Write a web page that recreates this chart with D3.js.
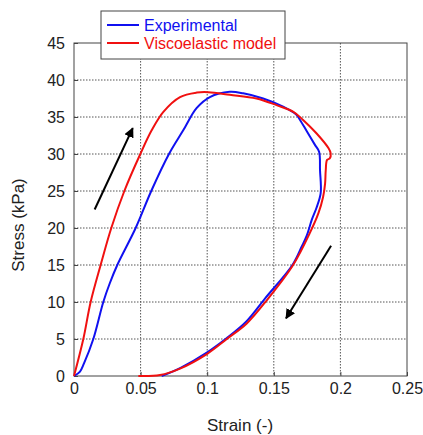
<!DOCTYPE html>
<html><head><meta charset="utf-8">
<script src="https://cdn.jsdelivr.net/npm/d3@7"></script>
<style>body{margin:0;background:#fff}svg{display:block;font-family:"Liberation Sans",Arial,sans-serif}</style>
</head><body><svg id="c" width="423" height="435"></svg>
<script>
const xTicks = [0, 0.05, 0.1, 0.15, 0.2, 0.25];
const xTickLabels = ["0", "0.05", "0.1", "0.15", "0.2", "0.25"];
const yTicks = [0, 5, 10, 15, 20, 25, 30, 35, 40, 45];
const seriesNames = ["Experimental", "Viscoelastic model"];
const experimentalStrain = [0,0.0045,0.0075,0.0145,0.022,0.0268,0.0325,0.0463,0.058,0.0713,0.082,0.092,0.102,0.117,0.127,0.142,0.157,0.167,0.1697,0.175,0.181,0.184,0.1847,0.1852,0.182,0.1785,0.1748,0.171,0.164,0.1435,0.129,0.1145,0.1,0.08,0.0658];
const experimentalStress = [0,0.6,1.7,5,10,12.5,15,20,25,30,33.2,36.2,37.7,38.4,38.2,37.5,36.4,35.3,34.6,33.0,31.2,30.3,27.8,24.7,22.7,21.1,19,17.5,15,10.5,7.3,5.1,3.2,1.1,0];
const modelStrain = [0,0.007,0.0125,0.020,0.028,0.0378,0.0498,0.0583,0.0671,0.0796,0.0921,0.1009,0.117,0.137,0.152,0.1647,0.172,0.182,0.191,0.1927,0.192,0.19,0.189,0.1885,0.187,0.1835,0.177,0.1645,0.145,0.1297,0.1147,0.1,0.0796,0.0646,0.0483];
const modelStress = [0,5,10,15,20,25,30,33.2,35.7,37.7,38.3,38.35,38.0,37.5,36.6,35.7,34.6,32.8,30.8,30.1,29.4,29.2,27.8,26,24.2,22,19.3,15,10.3,7.1,5,3.0,1.0,0.13,0];
const arrowStrain = [[0.0155, 0.0441], [0.193, 0.1592]];
const arrowStress = [[22.5, 33.5], [17.6, 7.8]];

const svg = d3.select("#c");
const L = 74, R = 407, T = 43, B = 376;
const x = d3.scaleLinear().domain([0, 0.25]).range([L, R]);
const y = d3.scaleLinear().domain([0, 45]).range([B, T]);

// grid
const g = svg.append("g");
g.selectAll(".gx").data(xTicks.slice(1, -1)).enter().append("line")
  .attr("x1", d => x(d)).attr("x2", d => x(d)).attr("y1", T).attr("y2", B)
  .attr("stroke", "#555").attr("stroke-width", 1).attr("stroke-dasharray", "1.5,1.5");
g.selectAll(".gy").data(yTicks.slice(1, -1)).enter().append("line")
  .attr("y1", d => y(d)).attr("y2", d => y(d)).attr("x1", L).attr("x2", R)
  .attr("stroke", "#555").attr("stroke-width", 1).attr("stroke-dasharray", "1.5,1.5");

// axes
const xAxis = svg.append("g").attr("transform", `translate(0,${B})`)
  .call(d3.axisBottom(x).tickValues(xTicks).tickFormat((d, i) => xTickLabels[i]).tickSizeInner(-4).tickSizeOuter(0).tickPadding(7));
const yAxis = svg.append("g").attr("transform", `translate(${L},0)`)
  .call(d3.axisLeft(y).tickValues(yTicks).tickFormat(d3.format("d")).tickSizeInner(-4).tickSizeOuter(0).tickPadding(9));
[xAxis, yAxis].forEach(a => {
  a.select(".domain").remove();
  a.selectAll("line").attr("stroke", "#444");
  a.selectAll("text").attr("font-size", 16).attr("fill", "#222").attr("font-family", "Liberation Sans, Arial, sans-serif");
});
svg.append("rect").attr("x", L).attr("y", T).attr("width", R - L).attr("height", B - T)
  .attr("fill", "none").attr("stroke", "#444").attr("stroke-width", 1);

// curves
const line = d3.line().x(d => x(d[0])).y(d => y(d[1])).curve(d3.curveCatmullRom.alpha(0.5));
const expData = experimentalStrain.map((s, i) => [s, experimentalStress[i]]);
const modData = modelStrain.map((s, i) => [s, modelStress[i]]);
svg.append("path").datum(expData).attr("d", line).attr("fill", "none").attr("stroke", "#1010f0").attr("stroke-width", 2);
svg.append("path").datum(modData).attr("d", line).attr("fill", "none").attr("stroke", "#f01010").attr("stroke-width", 2);

// arrows
svg.append("defs").append("marker").attr("id", "ah").attr("viewBox", "0 0 10 10")
  .attr("refX", 9).attr("refY", 5).attr("markerWidth", 5).attr("markerHeight", 5).attr("orient", "auto")
  .attr("markerUnits", "strokeWidth")
  .append("path").attr("d", "M0,0 L10,5 L0,10 z").attr("fill", "#000");
arrowStrain.forEach((a, i) => {
  svg.append("line").attr("x1", x(a[0])).attr("y1", y(arrowStress[i][0]))
    .attr("x2", x(a[1])).attr("y2", y(arrowStress[i][1]))
    .attr("stroke", "#000").attr("stroke-width", 2).attr("marker-end", "url(#ah)");
});

// labels
svg.append("text").attr("x", 240).attr("y", 431).attr("text-anchor", "middle")
  .attr("font-size", 17).attr("fill", "#222").text("Strain (-)");
svg.append("text").attr("transform", "translate(24,225) rotate(-90)").attr("text-anchor", "middle")
  .attr("font-size", 17).attr("fill", "#222").text("Stress (kPa)");

// legend
const lg = svg.append("g");
lg.append("rect").attr("x", 101).attr("y", 11).attr("width", 184).attr("height", 48)
  .attr("fill", "#fff").attr("stroke", "#444").attr("stroke-width", 1);
const lcol = ["#1010f0", "#f01010"];
seriesNames.forEach((n, i) => {
  const yy = 25 + i * 18;
  lg.append("line").attr("x1", 107).attr("x2", 139).attr("y1", yy).attr("y2", yy)
    .attr("stroke", lcol[i]).attr("stroke-width", 2);
  lg.append("text").attr("x", 144).attr("y", yy + 5.5).attr("font-size", 16).attr("fill", lcol[i]).text(n);
});
</script></body></html>
